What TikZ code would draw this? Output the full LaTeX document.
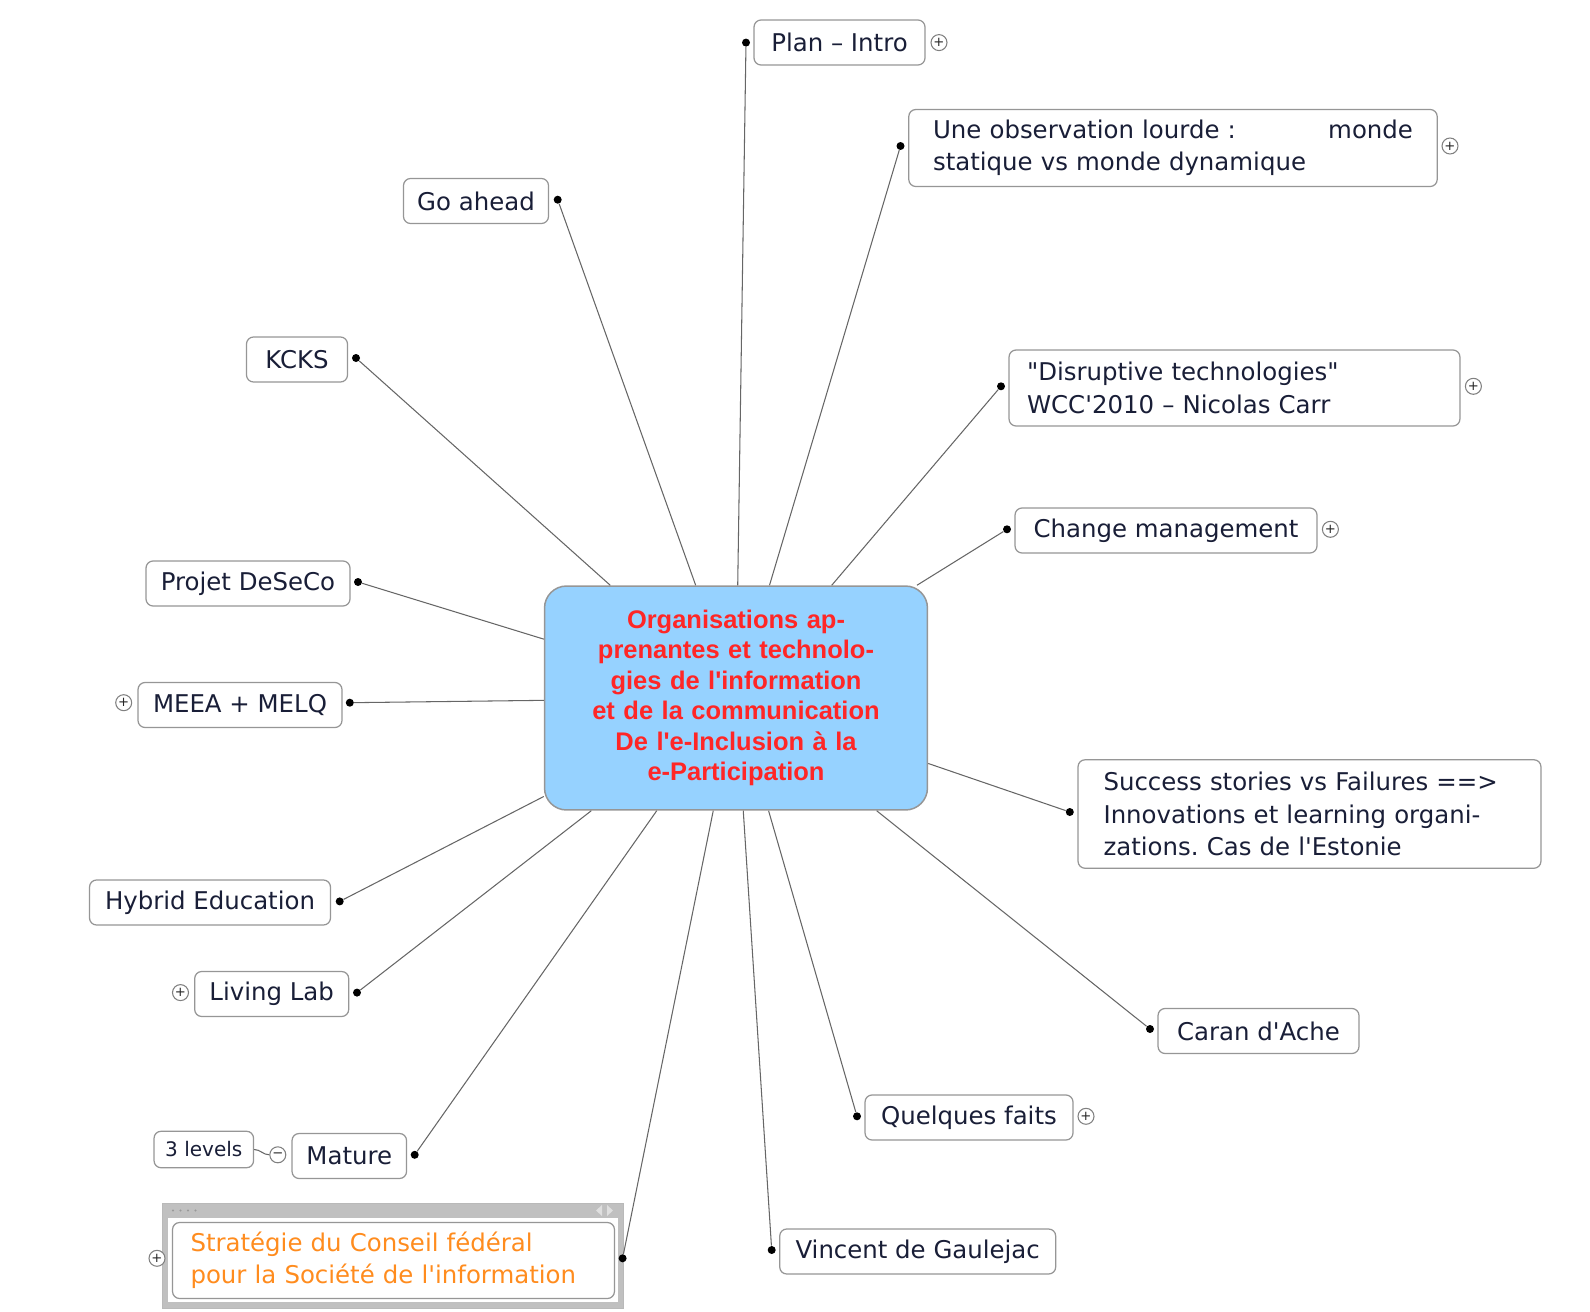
\documentclass[tikz,border=0pt]{standalone}
\usepackage{fontspec}
\setmainfont{DejaVu Sans}[Ligatures=TeXOff]
\newfontfamily\hubfont{Liberation Sans}[Ligatures=TeXOff]
\usetikzlibrary{positioning}
\frenchspacing

\definecolor{hubblue}{RGB}{150,210,255}
\definecolor{hubred}{RGB}{255,38,38}
\definecolor{inkblue}{RGB}{25,30,55}
\definecolor{boxgray}{RGB}{150,150,150}
\definecolor{framegray}{RGB}{192,192,192}
\definecolor{stratorange}{RGB}{255,140,30}

\begin{document}
\begin{tikzpicture}[
    x=0.02cm, y=-0.02cm,
    hub/.style={
        draw=boxgray, fill=hubblue, line width=0.85pt, rounded corners=0.44cm,
        minimum width=7.66cm, minimum height=4.48cm, text width=6.6cm, align=center,
        text=hubred, font=\hubfont\bfseries\fontsize{14.5}{17.3}\selectfont
    },
    topic/.style={
        draw=boxgray, fill=white, line width=0.7pt, rounded corners=0.14cm,
        minimum height=0.9cm, text=inkblue, font=\fontsize{13.9}{18.4}\selectfont
    },
    dot/.style={circle, fill=black, inner sep=0pt, minimum size=0.16cm},
    toggle/.style={
        circle, draw=black!50, fill=white, line width=0.6pt, inner sep=0pt,
        minimum size=0.32cm, text=black!85, font=\fontsize{7.5}{7.5}\selectfont
    },
    spoke/.style={draw=black!60, line width=0.6pt}
]

\useasboundingbox (0,0) rectangle (1590,1312);

% -------------------------
% Central topic
% -------------------------
\node[hub] (Hub) at (736,698) {
    Organisations ap-\\
    prenantes et technolo-\\
    gies de l'information\\
    et de la communication\\
    De l'e-Inclusion à la\\
    e-Participation
};

% -------------------------
% Frame round the Strategie topic
% -------------------------
\draw[draw=gray!55, fill=framegray] (162,1203.5) rectangle (623.6,1308);
\fill[white] (168,1218) rectangle (617.5,1302);
\foreach \i in {0,1,2,3}
    \fill[gray!80] (173+\i*7.5,1210.5) circle (1.2);
\fill[gray!25] (602,1205) -- (596,1210.5) -- (602,1216) -- cycle;
\fill[gray!25] (607,1205) -- (613,1210.5) -- (607,1216) -- cycle;

% -------------------------
% Topics (top, clockwise)
% -------------------------

% 1. Plan - Intro
\node[topic, minimum width=3.42cm] (Plan) at (839.5,42.5) {Plan – Intro};
\node[dot] (PlanDot) at (746,42.6) {};
\node[toggle] (PlanToggle) at (939,42.6) {+};

% 2. Une observation lourde
\node[topic, minimum width=10.57cm, minimum height=1.54cm, text width=9.6cm, align=left] (Observation) at (1173,148) {
    Une observation lourde : \hfill monde\\
    statique vs monde dynamique
};
\node[dot] (ObservationDot) at (900.5,146) {};
\node[toggle] (ObservationToggle) at (1450,146) {+};

% 3. Disruptive technologies
\node[topic, minimum width=9.02cm, minimum height=1.52cm, text width=8.3cm, align=left] (Disruptive) at (1234.5,388) {
    "Disruptive technologies"\\
    WCC'2010 – Nicolas Carr
};
\node[dot] (DisruptiveDot) at (1001,386.3) {};
\node[toggle] (DisruptiveToggle) at (1473.4,386.3) {+};

% 4. Change management
\node[topic, minimum width=6.04cm] (Change) at (1166,530.5) {Change management};
\node[dot] (ChangeDot) at (1007,529.3) {};
\node[toggle] (ChangeToggle) at (1330.4,529.3) {+};

% 5. Success stories
\node[topic, minimum width=9.26cm, minimum height=2.17cm, text width=8.24cm, align=left] (Success) at (1309.5,814) {
    Success stories vs Failures ==>\\
    Innovations et learning organi-\\
    zations. Cas de l'Estonie
};
\node[dot] (SuccessDot) at (1069.8,812) {};

% 6. Caran d'Ache
\node[topic, minimum width=4.02cm] (Caran) at (1258.5,1031) {Caran d'Ache};
\node[dot] (CaranDot) at (1150,1029) {};

% 7. Quelques faits
\node[topic, minimum width=4.16cm] (Faits) at (969,1117.5) {Quelques faits};
\node[dot] (FaitsDot) at (857,1116.3) {};
\node[toggle] (FaitsToggle) at (1086,1116.3) {+};

% 8. Vincent de Gaulejac
\node[topic, minimum width=5.52cm] (Vincent) at (917.7,1251.5) {Vincent de Gaulejac};
\node[dot] (VincentDot) at (771.7,1250) {};

% 9. Strategie du Conseil federal
\node[topic, minimum width=8.84cm, minimum height=1.52cm, text width=8.12cm, align=left, text=stratorange] (Strategie) at (393.5,1260.5) {
    Stratégie du Conseil fédéral\\
    pour la Société de l'information
};
\node[dot] (StrategieDot) at (622.6,1258.3) {};
\node[toggle] (StrategieToggle) at (157,1258.3) {+};

% 10. Mature (with 3 levels)
\node[topic, minimum width=2.29cm] (Mature) at (349.3,1156) {Mature};
\node[dot] (MatureDot) at (414.7,1154.8) {};
\node[toggle] (MatureToggle) at (277.8,1154.8) {−};
\node[topic, minimum width=1.99cm, minimum height=0.73cm, font=\fontsize{11.4}{13}\selectfont] (Levels) at (203.8,1149.5) {3 levels};

% 11. Living Lab
\node[topic, minimum width=3.08cm] (Living) at (271.7,994) {Living Lab};
\node[dot] (LivingDot) at (357,992.6) {};
\node[toggle] (LivingToggle) at (180.5,992.6) {+};

% 12. Hybrid Education
\node[topic, minimum width=4.82cm] (Hybrid) at (210,902.5) {Hybrid Education};
\node[dot] (HybridDot) at (339.7,901.4) {};

% 13. MEEA + MELQ
\node[topic, minimum width=4.08cm] (Meea) at (240,705) {MEEA + MELQ};
\node[dot] (MeeaDot) at (349.8,702.7) {};
\node[toggle] (MeeaToggle) at (123.7,702.7) {+};

% 14. Projet DeSeCo
\node[topic, minimum width=4.08cm] (Deseco) at (248,583.5) {Projet DeSeCo};
\node[dot] (DesecoDot) at (358,582) {};

% 15. KCKS
\node[topic, minimum width=2.02cm] (Kcks) at (297,359.5) {KCKS};
\node[dot] (KcksDot) at (356,358) {};

% 16. Go ahead
\node[topic, minimum width=2.9cm] (GoAhead) at (476,201) {Go ahead};
\node[dot] (GoAheadDot) at (557.7,199.7) {};

% -------------------------
% Spokes to the central topic
% -------------------------
\draw[spoke] (PlanDot) -- (Hub);
\draw[spoke] (ObservationDot) -- (Hub);
\draw[spoke] (DisruptiveDot) -- (Hub);
\draw[spoke] (ChangeDot) -- (Hub);
\draw[spoke] (SuccessDot) -- (Hub);
\draw[spoke] (CaranDot) -- (Hub);
\draw[spoke] (FaitsDot) -- (Hub);
\draw[spoke] (VincentDot) -- (Hub);
\draw[spoke] (StrategieDot) -- (Hub);
\draw[spoke] (MatureDot) -- (Hub);
\draw[spoke] (LivingDot) -- (Hub);
\draw[spoke] (HybridDot) -- (Hub);
\draw[spoke] (MeeaDot) -- (Hub);
\draw[spoke] (DesecoDot) -- (Hub);
\draw[spoke] (KcksDot) -- (Hub);
\draw[spoke] (GoAheadDot) -- (Hub);

% Mature -> 3 levels
\draw[spoke] (MatureToggle.west) to[out=180, in=0] (Levels.east);

\end{tikzpicture}
\end{document}
